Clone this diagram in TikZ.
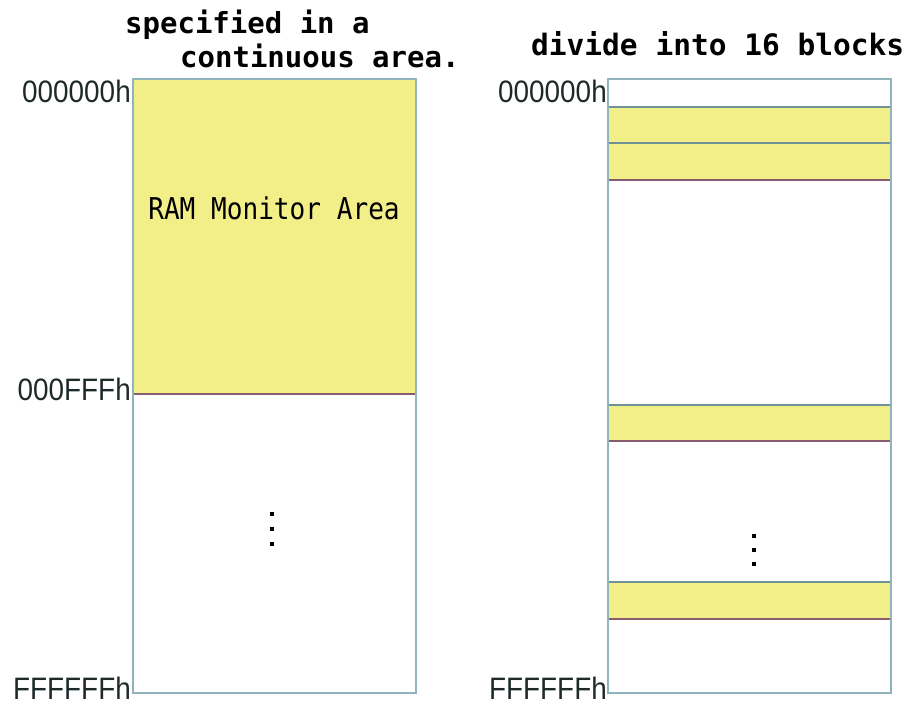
\documentclass[tikz,border=0pt]{standalone}
\usepackage{fontspec}
\newfontfamily\addrfont[FakeStretch=0.9]{Liberation Sans}
\newfontfamily\titlefont{DejaVu Sans Mono}
\newfontfamily\areafont[FakeStretch=0.87]{DejaVu Sans Mono}
\usepackage{tikz}
\usetikzlibrary{positioning}
\definecolor{memfill}{HTML}{F2EE88}
\definecolor{frameline}{HTML}{8FB4BC}
\definecolor{bandtop}{HTML}{6E9296}
\definecolor{bandbot}{HTML}{8A5C72}
\definecolor{addrcol}{HTML}{1E2A2A}

\begin{document}
\begin{tikzpicture}[x=1pt,y=-1pt]
    \tikzstyle{frame}=[draw=frameline,line width=1.5pt]
    \tikzstyle{addr}=[anchor=east,inner sep=0pt,text=addrcol,font=\addrfont\fontsize{31}{31}\selectfont]
    \tikzstyle{heading}=[anchor=base west,inner sep=0pt,font=\titlefont\bfseries\fontsize{29}{29}\selectfont]
    \tikzstyle{vdot}=[rectangle,fill=black,minimum size=4pt,inner sep=0pt]
    \useasboundingbox (0,0) rectangle (906,704);
    % continuous area
    \fill[memfill] (133,79) rectangle (416,394);
    \draw[bandbot,line width=1.5pt] (133,394) -- (416,394);
    \draw[frame] (133,79) rectangle (416,693);
    \node[inner sep=0pt,font=\areafont\fontsize{30}{30}\selectfont] (ram) at (274,208) {RAM Monitor Area};
    \node[heading] (spec_1) at (125,33) {specified in a};
    \node[heading] (spec_2) at (180,67) {continuous area.};
    \node[addr] (l_top) at (131,91) {000000h};
    \node[addr] (l_mid) at (131,389) {000FFFh};
    \node[addr] (l_bot) at (131,688) {FFFFFFh};
    \node[vdot] (ld_1) at (272,514) {};
    \node[vdot] (ld_2) at (272,529) {};
    \node[vdot] (ld_3) at (272,544) {};
    % 16 blocks
    \foreach \a/\b in {107/143,143/180,405/441,582/619}{
        \fill[memfill] (608,\a) rectangle (891,\b);
        \draw[bandtop,line width=1.5pt] (608,\a) -- (891,\a);
        \draw[bandbot,line width=1.5pt] (608,\b) -- (891,\b);
    }
    \draw[frame] (608,79) rectangle (891,693);
    \node[heading,font=\titlefont\bfseries\fontsize{29.5}{29.5}\selectfont] (div) at (531,55) {divide into 16 blocks};
    \node[addr] (r_top) at (607,91) {000000h};
    \node[addr] (r_bot) at (607,688) {FFFFFFh};
    \node[vdot] (rd_1) at (754,536) {};
    \node[vdot] (rd_2) at (754,550) {};
    \node[vdot] (rd_3) at (754,564) {};
\end{tikzpicture}
\end{document}
